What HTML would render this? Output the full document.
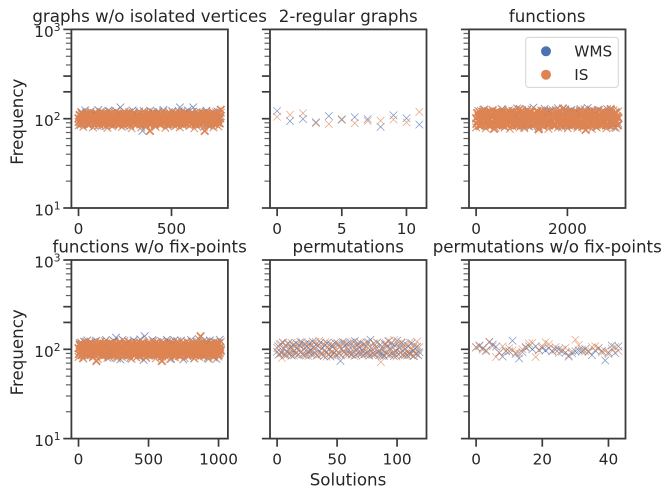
<!DOCTYPE html>
<html lang="en">
<head>
<meta charset="utf-8">
<title>Solution frequency by structure</title>
<style>
html,body{margin:0;padding:0;background:#fff;}
svg{display:block;}
text{font-family:"DejaVu Sans","Liberation Sans",sans-serif;fill:#262626;}
</style>
</head>
<body>
<svg id="chart" width="672" height="498" viewBox="0 0 672 498" xmlns="http://www.w3.org/2000/svg"></svg>
<script>
const panelTitles = ["graphs w/o isolated vertices","2-regular graphs","functions","functions w/o fix-points","permutations","permutations w/o fix-points"];
const seriesNames = ["WMS","IS"];
const lastSolution = [765,11,3117,1016,118.6,43];
const xTickLabels = [[0,500],[0,5,10],[0,2000],[0,500,1000],[0,50,100],[0,20,40]];
const yTickLabels = [10,100,1000];
const yLongMinorTicks = [200,300];
const yShortMinorTicks = [20,30,40,50,60,70,80,90,400,500,600,700,800,900];

const graphsWms = [
92,108,85,118,101,88,124,96,112,84,
105,121,90,99,116,83,110,94,125,87,
103,119,86,97,113,82,107,123,91,100,
117,85,109,95,122,88,104,115,134,93,
111,84,120,98,89,106,118,83,102,124,
90,114,87,96,109,121,86,101,73,92,
119,85,105,112,94,123,88,99,116,84,
108,91,120,97,86,113,103,125,89,95,
110,83,118,100,87,122,93,106,115,85,
98,121,134,90,109,84,117,102,88,124,
94,111,86,119,134,97,105,83,113,91,
120,87,101,116,89,108,123,85,96,112,
84,104,118,92,110,86,121,99,88,107
];
const isGraphs = [
101,92,110,97,89,106,113,94,103,88,
108,99,91,112,96,104,87,109,100,93,
114,90,102,107,95,88,111,98,105,92,
89,113,101,94,109,86,103,97,112,90,
106,99,115,93,88,104,110,96,91,108,
102,87,113,95,100,109,92,105,89,111,
97,94,107,103,88,114,91,99,110,86,
104,96,112,93,101,89,108,98,106,92,
115,90,103,95,111,87,100,109,94,105,
91,113,97,88,107,102,93,110,99,89,
104,96,114,92,101,87,108,95,112,90,
106,98,88,103,111,94,100,91,109,97,
73,113,92,105,89,102,110,96,87,107,
99,93,114,90,104,97,88,111,101,94,
108,91,103,95,113,89,106,100,92,110,
87,98,105,94,112,90,102,96,109,88,
107,93,115,99,91,104,97,111,89,101,
95,108,92,113,87,103,100,94,110,90,
106,97,88,112,102,93,105,91,109,96,
114,89,100,104,92,107,95,87,111,98,
90,103,113,94,101,88,108,96,105,91,
110,99,73,106,93,114,89,102,97,112,
92,104,87,109,95,100,91,113,98,88,
107,94,103,111,90,97,105,89,101,126
];
const isGraphsEdge = [
84,118,81,115,86,120,80,116,83,119,
85,114,79,121,82,117,86,115,81,120,
84,116,78,118,85,114,80,122,83,117,
86,119,81,115,84,120,79,116,85,118,
82,114,80,121,86,117,83,115,78,119,
85,116,81,120,84,114,80,118,82,117
];
const functionsWms = [
88,116,95,108,82,122,101,90,127,85,
113,97,119,83,105,92,125,87,110,99,
121,84,103,116,89,128,94,107,80,118,
100,86,124,96,112,83,109,120,91,105,
130,85,98,117,88,122,102,81,114,93,
126,87,106,119,84,100,133,90,111,95,
123,82,108,97,118,86,103,129,92,115,
85,121,99,89,110,124,83,105,117,94,
131,87,101,120,80,112,96,127,88,107,
119,84,93,125,102,86,114,98,122,83,
109,90,128,95,116,82,104,120,87,132,
100,113,85,123,92,106,118,81,97,126,
89,110,84,121,103,94,117,86,128,99,
107,83,124,91,112,80,119,96,105,88
];
const isFunctions = [
101,88,115,94,107,84,118,97,110,86,
104,119,91,99,113,85,108,95,117,89,
102,84,111,96,120,87,105,93,116,90,
77,109,98,118,85,103,112,92,86,114,
100,89,117,95,106,84,119,91,110,97,
87,104,115,93,85,108,101,118,90,96,
113,86,105,120,94,88,111,99,84,116,
92,103,87,128,97,109,85,114,90,102,
118,95,86,107,112,89,100,84,117,93,
105,91,119,97,87,110,103,85,115,94,
88,108,96,120,90,76,113,101,86,106,
117,92,84,111,98,89,104,118,95,87,
109,93,115,85,102,120,90,97,107,86,
113,88,100,84,116,94,105,91,119,96,
87,110,103,85,114,92,130,98,89,106,
118,84,101,93,112,87,108,96,117,90,
85,104,115,91,99,120,86,109,94,102,
88,113,97,84,118,105,90,107,93,116,
86,100,111,89,75,95,119,85,103,92,
114,87,106,98,117,84,110,91,101,88,
115,96,104,86,120,93,108,89,112,85,
99,118,90,105,87,113,94,102,84,116,
97,109,86,119,92,103,128,88,111,95,
85,107,100,114,89,117,93,106,84,101
];
const isFunctionsEdge = [
80,122,83,125,78,121,82,124,79,120,
84,126,81,122,77,123,83,120,80,125,
78,121,82,127,84,122,79,124,81,120,
77,123,83,126,80,121,84,125,78,122,
82,120,79,124,81,127,83,121,77,123,
80,125,84,122,78,120,82,124,79,121
];
const functionsFixWms = [
88,117,96,108,80,122,101,90,126,85,
113,97,119,83,105,92,125,87,110,99,
121,84,103,116,89,127,94,107,81,118,
100,86,124,96,135,83,109,120,77,105,
128,85,98,117,88,122,102,80,114,93,
126,87,106,119,84,100,129,90,111,76,
140,82,108,97,118,86,103,127,92,115,
85,121,99,89,110,124,83,105,117,94,
128,87,101,120,78,112,96,126,88,107,
119,84,93,125,102,77,114,98,122,83,
109,90,127,95,116,79,104,120,87,130,
100,113,85,123,92,106,118,80,97,126,
89,110,84,121,103,78,117,86,128,99
];
const isFunctionsFix = [
103,89,112,95,107,86,115,98,91,110,
87,104,113,93,100,88,109,96,116,90,
106,86,111,97,92,114,88,102,108,94,
74,113,99,87,105,116,91,96,110,86,
103,89,115,93,107,98,87,112,101,90,
114,94,86,109,97,104,88,116,92,100,
111,87,106,95,113,90,102,86,108,97,
115,91,99,88,110,104,93,116,87,101,
96,112,89,107,94,86,113,100,91,105,
98,115,87,109,92,103,88,111,96,114,
90,101,86,106,97,116,93,88,108,102,
87,113,95,104,90,110,99,86,115,92,
105,89,112,97,100,87,109,94,116,91,
103,88,107,96,113,86,101,92,110,98,
74,115,90,104,87,111,95,108,89,102,
114,93,86,106,99,112,91,97,116,88,
103,90,109,86,113,96,100,89,115,92,
107,87,104,98,111,94,88,116,101,90,
108,95,86,112,103,91,114,87,99,106,
93,110,89,102,115,97,86,105,92,113,
88,100,109,95,87,140,91,104,112,96,
89,116,101,86,107,93,110,98,88,114,
92,103,87,106,115,90,97,111,86,100,
94,113,89,108,102,87,116,91,105,96
];
const isFunctionsFixEdge = [
82,119,79,122,84,118,81,121,78,120,
83,123,80,118,85,122,79,119,82,124,
84,120,78,118,81,122,83,119,80,121,
85,123,79,118,82,120,84,122,78,119,
81,124,83,118,80,121,85,120,79,122,
82,119,84,123,78,118,81,120,83,121
];
const permutationsWms = [
94,108,88,115,91,119,101,86,111,93,
117,90,105,85,112,96,89,118,103,87,
110,92,120,88,101,114,85,108,94,116,
97,87,122,105,90,113,86,109,96,119,
89,104,84,112,93,117,87,100,83,110,
106,91,118,97,86,114,90,74,102,121,
93,110,88,115,100,90,119,87,107,95,
124,86,112,92,104,118,89,97,114,88,
109,93,120,85,128,102,90,116,87,106,
119,95,86,112,100,89,84,115,91,108,
123,87,102,117,90,84,110,95,125,88,
106,92,118,86,113,100,89,85,109,91,
88,117,96,84,102,89,107,86,93
];
const isPermutations = [
104,87,112,92,80,119,90,108,86,115,
97,89,118,102,85,110,91,106,88,121,
94,112,86,104,90,117,84,107,93,114,
88,100,122,85,109,125,91,87,113,96,
120,83,106,89,116,92,86,110,102,88,
118,91,107,85,112,96,119,90,104,87,
115,94,89,121,84,106,100,117,88,110,
92,85,113,104,120,87,91,108,96,86,
116,89,106,119,92,90,72,84,102,112,
118,88,96,125,86,109,92,127,89,83,
116,104,91,120,87,107,85,113,96,90,
119,88,102,84,110,92,122,86,106
];
const permutationsFixWms = [
105,110,103,97,120,113,107,92,83,96,
95,125,89,79,93,106,108,100,108,98,
103,97,103,95,99,100,95,92,83,90,
95,97,95,101,95,86,97,103,96,75,
92,110,91,108
];
const isPermutationsFix = [
106,108,99,95,122,108,82,91,108,95,
103,97,92,90,100,104,116,118,82,97,
108,120,114,96,106,91,99,104,86,95,
128,112,100,95,93,106,108,103,92,96,
88,102,106,96
];
const regularWms = [122,94,99,91,107,97,104,99,81,109,101,86];
const isRegular = [105,111,115,89,87,99,89,94,95,98,91,119];

const wmsSeries = [graphsWms,regularWms,functionsWms,functionsFixWms,permutationsWms,permutationsFixWms];
const isSeries = [isGraphs,isRegular,isFunctions,isFunctionsFix,isPermutations,isPermutationsFix];
const isEdgeSeries = [isGraphsEdge,[],isFunctionsEdge,isFunctionsFixEdge,[],[]];

const svg = document.getElementById('chart');
const NS = 'http://www.w3.org/2000/svg';
const INK = '#3b3b3b';
const BLUE = '#4c72b0';
const ORANGE = '#dd8452';
const columnLeft = [71.4, 270, 469];
const rowTop = [29.4, 260];
const plotW = 156.5;
const plotH = 178.6;

function add(parent, tag, attrs, content) {
  const el = document.createElementNS(NS, tag);
  for (const k in attrs) el.setAttribute(k, attrs[k]);
  if (content !== undefined) el.textContent = content;
  parent.appendChild(el);
  return el;
}
function slug(s) { return s.replace(/[^a-z0-9]+/gi, '-').toLowerCase(); }

function drawPanel(idx) {
  const col = idx % 3, row = Math.floor(idx / 3);
  const left = columnLeft[col], top = rowTop[row];
  const bottom = top + plotH, right = left + plotW;
  const last = lastSolution[idx];
  const pad = last * 0.05;
  const xScale = v => left + (v + pad) / (last + 2 * pad) * plotW;
  const yScale = v => bottom - (Math.log10(v) - 1) / 2 * plotH;

  const g = document.createElementNS(NS, 'g');
  
  
  svg.appendChild(g);

  const title = add(g, 'text', {x: left + plotW / 2, y: top - 7.4, 'text-anchor': 'middle', 'font-size': 16.67}, panelTitles[idx]);
  
  

  const dense = isSeries[idx].length > 125;
  const arm = 3.8;
  const layers = [
    {values: wmsSeries[idx], color: BLUE, name: 'wms', width: dense ? 0.9 : 0.7, opacity: dense ? 0.75 : 0.75},
    {values: isEdgeSeries[idx], color: ORANGE, name: 'is-edge', width: 1.2, opacity: 0.8},
    {values: isSeries[idx], color: ORANGE, name: 'is', width: dense ? 1.7 : 0.7, opacity: dense ? 1 : 0.75}
  ];
  layers.forEach(function (layer) {
    const values = layer.values;
    const sg = document.createElementNS(NS, 'g');
    
    
    sg.setAttribute('stroke', layer.color);
    sg.setAttribute('fill', 'none');
    sg.setAttribute('stroke-width', layer.width);
    sg.setAttribute('stroke-opacity', layer.opacity);
    g.appendChild(sg);
    values.forEach(function (v, i) {
      const px = xScale(i * last / (values.length - 1));
      const py = yScale(v);
      const m = document.createElementNS(NS, 'path');
      m.setAttribute('d', 'M' + (px - arm) + ' ' + (py - arm) + 'L' + (px + arm) + ' ' + (py + arm) + 'M' + (px - arm) + ' ' + (py + arm) + 'L' + (px + arm) + ' ' + (py - arm));
      
      
      sg.appendChild(m);
    });
  });

  const yAxis = document.createElementNS(NS, 'g');
  
  
  g.appendChild(yAxis);
  yShortMinorTicks.forEach(function (v) {
    const t = add(yAxis, 'line', {x1: left - 5.5, x2: left, y1: yScale(v), y2: yScale(v), stroke: INK, 'stroke-width': 1.2, 'stroke-opacity': 0.8});
    
    
  });
  yLongMinorTicks.concat(yTickLabels).forEach(function (v) {
    const t = add(yAxis, 'line', {x1: left - 8.1, x2: left, y1: yScale(v), y2: yScale(v), stroke: INK, 'stroke-width': 1.7});
    
    
  });
  if (col === 0) {
    yTickLabels.forEach(function (v) {
      const label = add(yAxis, 'text', {x: 60.5, y: yScale(v) + 7.5, 'text-anchor': 'end', 'font-size': 15.28});
      
      
      add(label, 'tspan', {}, '10');
      add(label, 'tspan', {'font-size': 10.7, dy: -6}, String(Math.round(Math.log10(v))));
    });
    const yl = add(yAxis, 'text', {x: 0, y: 0, 'text-anchor': 'middle', 'font-size': 16.67, transform: 'translate(23,' + (top + plotH / 2 + 3) + ') rotate(-90)'}, 'Frequency');
    
    
  }

  const xAxis = document.createElementNS(NS, 'g');
  
  
  g.appendChild(xAxis);
  xTickLabels[idx].forEach(function (v) {
    const t = add(xAxis, 'line', {x1: xScale(v), x2: xScale(v), y1: bottom, y2: bottom + 8.1, stroke: INK, 'stroke-width': 1.7});
    
    
    const label = add(xAxis, 'text', {x: xScale(v), y: bottom + 26, 'text-anchor': 'middle', 'font-size': 15.28}, String(v));
    
    
  });

  const frame = add(g, 'rect', {x: left, y: top, width: plotW, height: plotH, fill: 'none', stroke: INK, 'stroke-width': 1.8});
  
  
}

panelTitles.forEach(function (_, i) { drawPanel(i); });

const xTitle = add(svg, 'text', {x: 348, y: 485.6, 'text-anchor': 'middle', 'font-size': 16.67}, 'Solutions');



const legend = document.createElementNS(NS, 'g');


svg.appendChild(legend);
const legendBox = add(legend, 'rect', {x: 525.7, y: 37.4, width: 92.6, height: 50, rx: 3, fill: '#fff', 'fill-opacity': 0.8, stroke: '#d3d3d3', 'stroke-width': 1});


seriesNames.forEach(function (name, i) {
  const cy = 51.3 + i * 23.4;
  const dot = add(legend, 'circle', {cx: 546, cy: cy, r: 5, fill: i === 0 ? BLUE : ORANGE});
  
  
  const label = add(legend, 'text', {x: 574.3, y: cy + 5.3, 'font-size': 15.28}, name);
  
  
});
</script>
</body>
</html>
